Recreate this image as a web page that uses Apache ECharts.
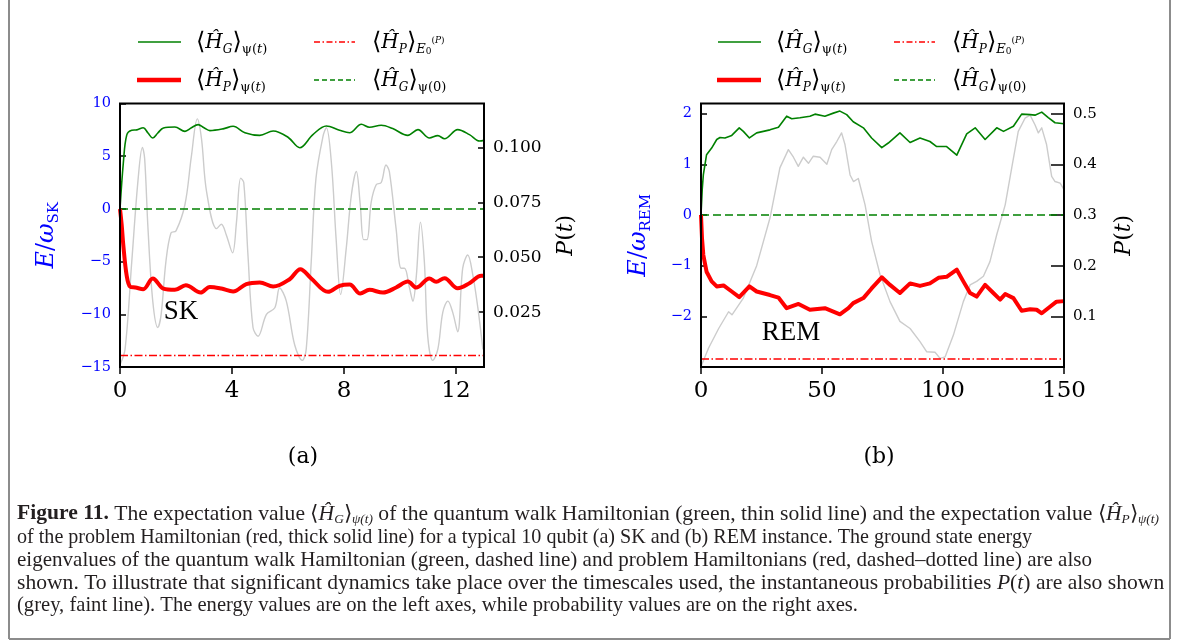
<!DOCTYPE html>
<html><head><meta charset="utf-8">
<script src="https://cdn.jsdelivr.net/npm/echarts@6/dist/echarts.min.js"></script>
<style>html,body{margin:0;padding:0;background:#fff}#c{width:1182px;height:644px}</style>
</head><body><div id="c"></div><script>
// ---------------- data: (a) SK ----------------
const skGreenT = [0, 0.12, 0.24, 0.42, 0.6, 0.83, 1.0, 1.17, 1.35, 1.55, 1.96, 2.32, 2.55, 2.79, 3.0, 3.21, 3.68, 4.04, 4.46, 4.99, 5.47, 6.0, 6.42, 6.89, 7.37, 7.84, 8.2, 8.62, 8.91, 9.33, 9.74, 10.28, 10.64, 11.05, 11.35, 11.59, 12.06, 12.48, 12.84, 13.0];
const skGreenE = [0, 4.4, 7.0, 7.46, 7.5, 7.7, 7.2, 6.72, 7.2, 7.68, 7.77, 7.36, 7.7, 8.0, 7.7, 7.43, 7.59, 7.84, 7.23, 6.98, 7.39, 6.8, 5.8, 7.05, 7.87, 7.46, 7.23, 8.03, 7.74, 7.93, 7.62, 6.98, 7.52, 6.73, 6.95, 6.66, 7.52, 7.05, 6.44, 6.5];
const skRedT = [0, 0.06, 0.12, 0.24, 0.36, 0.55, 0.83, 1.17, 1.55, 1.96, 2.35, 2.88, 3.21, 3.62, 4.04, 4.51, 4.99, 5.47, 6.06, 6.44, 6.83, 7.43, 7.84, 8.2, 8.58, 8.91, 9.39, 9.86, 10.28, 10.58, 11.05, 11.29, 11.59, 12.06, 12.48, 12.9, 13.0];
const skRedE = [0, -1.5, -3.5, -6.35, -7.37, -7.46, -7.62, -6.6, -7.56, -7.68, -7.24, -7.94, -7.4, -7.56, -7.84, -7.14, -6.98, -7.37, -6.67, -5.72, -6.6, -7.87, -7.3, -7.17, -8.03, -7.68, -7.94, -7.46, -6.89, -7.46, -6.6, -6.92, -6.57, -7.53, -7.05, -6.35, -6.35];
const skProbT = [0, 0.18, 0.42, 0.65, 0.8, 0.88, 1.0, 1.17, 1.35, 1.47, 1.64, 1.82, 2.0, 2.32, 2.55, 2.76, 2.91, 3.09, 3.45, 3.62, 3.8, 4.02, 4.16, 4.31, 4.42, 4.57, 4.75, 4.93, 5.23, 5.53, 5.7, 5.94, 6.24, 6.51, 6.65, 6.83, 7.0, 7.25, 7.37, 7.55, 7.72, 7.88, 8.08, 8.26, 8.44, 8.58, 8.7, 8.82, 8.97, 9.15, 9.33, 9.5, 9.62, 9.86, 10.04, 10.16, 10.34, 10.46, 10.58, 10.73, 10.87, 10.99, 11.17, 11.35, 11.53, 11.71, 11.88, 12.06, 12.24, 12.42, 12.6, 12.78, 12.96];
const skProb = [0.001, 0.008, 0.048, 0.086, 0.100, 0.095, 0.063, 0.030, 0.018, 0.024, 0.048, 0.061, 0.062, 0.074, 0.096, 0.113, 0.104, 0.080, 0.063, 0.065, 0.060, 0.052, 0.066, 0.086, 0.084, 0.051, 0.018, 0.014, 0.024, 0.027, 0.036, 0.030, 0.010, 0.003, 0.008, 0.048, 0.086, 0.105, 0.109, 0.093, 0.058, 0.033, 0.054, 0.078, 0.089, 0.074, 0.058, 0.058, 0.075, 0.083, 0.084, 0.092, 0.089, 0.063, 0.045, 0.045, 0.036, 0.030, 0.041, 0.066, 0.048, 0.014, 0.003, 0.008, 0.025, 0.030, 0.025, 0.016, 0.045, 0.051, 0.042, 0.027, 0.008];
const skGroundG = 0;
const skGroundP = -13.9;
const skTRange = [0, 13];
const skERange = [-15, 10];
const skPRange = [0, 0.12];
const skXTicks = [0, 4, 8, 12];
const skETicks = [-15, -10, -5, 0, 5, 10];
const skPTicks = [0.025, 0.05, 0.075, 0.1];

// ---------------- data: (b) REM ----------------
const remGreenT = [0, 0.5, 0.96, 2.3, 4.4, 6.5, 7.85, 9.9, 12.7, 15.8, 17.5, 20, 23, 28.5, 32, 35.4, 37.5, 40.9, 45, 47.1, 51.2, 54.7, 57.4, 60.2, 62.9, 67.1, 70.5, 74.7, 77.4, 82.2, 86.4, 90.5, 94.6, 97.4, 101.5, 105.7, 109.8, 113.3, 117.4, 122.2, 125, 129.1, 132.5, 136, 138, 140.8, 143.5, 146.3, 150];
const remGreenE = [0, 0.5, 0.79, 1.19, 1.32, 1.49, 1.53, 1.52, 1.57, 1.72, 1.65, 1.52, 1.62, 1.68, 1.73, 1.95, 1.9, 1.92, 1.95, 1.99, 1.95, 2.01, 2.05, 1.98, 1.84, 1.72, 1.52, 1.33, 1.42, 1.62, 1.43, 1.52, 1.45, 1.35, 1.35, 1.18, 1.6, 1.72, 1.49, 1.72, 1.65, 1.75, 1.99, 1.98, 1.97, 2.03, 1.92, 1.82, 1.8];
const remRedT = [0, 0.4, 0.96, 2.3, 4.4, 6.5, 9.3, 12.7, 15.8, 20, 23, 28.5, 32, 35.4, 40.3, 45, 51.2, 57.4, 60.9, 62.9, 67.1, 70.5, 74.7, 78.1, 82.2, 86.4, 90.5, 94.6, 98.1, 101.5, 105.7, 108.4, 111.2, 113.9, 117.4, 120.8, 123.6, 125.7, 129.1, 132.5, 136, 138.7, 140.8, 144.2, 146.9, 150];
const remRedE = [0, -0.45, -0.79, -1.12, -1.31, -1.41, -1.39, -1.51, -1.62, -1.41, -1.51, -1.58, -1.63, -1.84, -1.755, -1.87, -1.84, -1.96, -1.84, -1.74, -1.64, -1.45, -1.23, -1.38, -1.54, -1.35, -1.4, -1.35, -1.24, -1.22, -1.08, -1.31, -1.54, -1.61, -1.38, -1.54, -1.67, -1.56, -1.64, -1.89, -1.86, -1.87, -1.94, -1.81, -1.71, -1.7];
const remProbT = [0, 3.1, 7.3, 11.4, 12.8, 17.5, 23, 28.5, 32.6, 36.1, 38.2, 40.2, 42.3, 44.4, 46.4, 49.2, 52, 54, 56.1, 58.1, 59.5, 61.6, 63, 65, 67.8, 70.5, 74, 78.1, 82.2, 86.4, 90.5, 93.3, 96.7, 98.8, 100.9, 104.3, 108.4, 111.2, 113.9, 116.7, 119.4, 122.2, 125.7, 128.4, 131.1, 133.9, 136, 138, 139.4, 140.8, 142.8, 144.9, 146.3, 148.4, 150];
const remProb = [0.001, 0.037, 0.076, 0.109, 0.103, 0.136, 0.2, 0.294, 0.393, 0.429, 0.414, 0.396, 0.414, 0.402, 0.416, 0.414, 0.4, 0.429, 0.445, 0.462, 0.439, 0.379, 0.366, 0.372, 0.32, 0.248, 0.182, 0.129, 0.09, 0.076, 0.05, 0.03, 0.029, 0.017, 0.02, 0.063, 0.129, 0.162, 0.169, 0.179, 0.208, 0.261, 0.32, 0.393, 0.465, 0.491, 0.497, 0.478, 0.462, 0.472, 0.439, 0.376, 0.366, 0.363, 0.35];
const remGroundG = 0;
const remGroundP = -2.84;
const remTRange = [0, 150];
const remERange = [-3, 2.2];
const remPRange = [0, 0.52];
const remXTicks = [0, 50, 100, 150];
const remETicks = [-2, -1, 0, 1, 2];
const remPTicks = [0.1, 0.2, 0.3, 0.4, 0.5];

// ---------------- build ----------------
const zip = (a, b) => a.map((v, i) => [v, b[i]]);
const minus = v => (v < 0 ? '\u2212' + Math.abs(v) : String(v));
const GREEN = '#008000', RED = '#ff0000', GREY = '#cccccc', BLUE = '#0000ff';
const SERIF = 'DejaVu Serif';
const DASH = [8, 4], DASHDOT = [8, 2.5, 1.5, 2.5];

function line(xi, yi, data, color, width, type, smooth, z) {
  return { type: 'line', xAxisIndex: xi, yAxisIndex: yi, data: data, showSymbol: false, symbol: 'none',
    smooth: smooth, z: z, silent: true, animation: false,
    lineStyle: { color: color, width: width, type: type, join: 'round', cap: 'butt' } };
}

function xAxis(grid, range, ticks) {
  return { gridIndex: grid, type: 'value', position: 'bottom', min: range[0], max: range[1],
    axisLine: { show: false, onZero: false },
    splitLine: { show: false },
    axisTick: { show: true, inside: false, length: 7, customValues: ticks, lineStyle: { color: '#000', width: 1.5 } },
    axisLabel: { customValues: ticks, formatter: v => String(v), fontFamily: SERIF, fontSize: 23, color: '#000', margin: 13 } };
}
function eAxis(grid, range, ticks, sub, gap, fs) {
  return { gridIndex: grid, type: 'value', position: 'left', min: range[0], max: range[1],
    axisLine: { show: false, onZero: false }, splitLine: { show: false },
    axisTick: { show: true, inside: true, length: 6, customValues: ticks, lineStyle: { color: '#000', width: 1.5 } },
    axisLabel: { customValues: ticks, formatter: minus, fontFamily: SERIF, fontSize: fs, color: BLUE, margin: 9 },
    name: '{i|E}{n|/}{i|\u03c9}{s|' + sub + '}', nameLocation: 'middle', nameRotate: 90, nameGap: gap,
    nameTextStyle: { color: BLUE, fontFamily: SERIF, fontSize: 24,
      rich: { i: { fontStyle: 'italic', fontSize: 24, color: BLUE, fontFamily: SERIF, lineHeight: 30 },
              n: { fontSize: 24, color: BLUE, fontFamily: SERIF, lineHeight: 30 },
              s: { fontSize: 15, color: BLUE, fontFamily: SERIF, lineHeight: 15, verticalAlign: 'bottom' } } } };
}
function pAxis(grid, range, ticks, digits, gap, fs, tl) {
  return { gridIndex: grid, type: 'value', position: 'right', min: range[0], max: range[1],
    axisLine: { show: false, onZero: false }, splitLine: { show: false },
    axisTick: { show: true, inside: true, length: tl, customValues: ticks, lineStyle: { color: '#000', width: 1.5 } },
    axisLabel: { customValues: ticks, formatter: v => v.toFixed(digits), fontFamily: SERIF, fontSize: fs, color: '#000', margin: 9 },
    name: '{i|P}{n|(}{i|t}{n|)}', nameLocation: 'middle', nameRotate: 90, nameGap: gap,
    nameTextStyle: { color: '#000', fontFamily: SERIF, fontSize: 22,
      rich: { i: { fontStyle: 'italic', fontSize: 22, color: '#000', fontFamily: SERIF },
              n: { fontSize: 22, color: '#000', fontFamily: SERIF } } } };
}

// legend & caption graphics
const mathRich = {
  a: { fontSize: 24, fontFamily: SERIF, lineHeight: 26, fill: '#000' },
  h: { fontSize: 20, fontStyle: 'italic', fontFamily: SERIF, lineHeight: 26, fill: '#000' },
  s: { fontSize: 12, fontStyle: 'italic', fontFamily: SERIF, lineHeight: 12, verticalAlign: 'bottom', fill: '#000' },
  r: { fontSize: 13, fontFamily: SERIF, lineHeight: 13, verticalAlign: 'bottom', fill: '#000' },
  ri: { fontSize: 13, fontStyle: 'italic', fontFamily: SERIF, lineHeight: 13, verticalAlign: 'bottom', fill: '#000' },
  z: { fontSize: 9, fontFamily: SERIF, lineHeight: 8, verticalAlign: 'bottom', fill: '#000' },
  u: { fontSize: 9, fontFamily: SERIF, lineHeight: 9, verticalAlign: 'top', padding: [6, 0, 0, 0], fill: '#000' },
  ui: { fontSize: 9, fontStyle: 'italic', fontFamily: SERIF, lineHeight: 9, verticalAlign: 'top', padding: [6, 0, 0, 0], fill: '#000' }
};
const legTexts = [
  '{a|\u27e8}{h|\u0124}{s|G}{a|\u27e9}{r|\u03c8(}{ri|t}{r|)}',
  '{a|\u27e8}{h|\u0124}{s|P}{a|\u27e9}{r|\u03c8(}{ri|t}{r|)}',
  '{a|\u27e8}{h|\u0124}{s|P}{a|\u27e9}{ri|E}{z|0}{u|(}{ui|P}{u|)}',
  '{a|\u27e8}{h|\u0124}{s|G}{a|\u27e9}{r|\u03c8(0)}'
];
function legend(dx) {
  const els = [];
  const rows = [
    { x1: 138, x2: 181, y: 42, c: GREEN, w: 1.6, d: null, tx: 196, t: legTexts[0] },
    { x1: 137, x2: 181, y: 80, c: RED, w: 4.5, d: null, tx: 196, t: legTexts[1] },
    { x1: 314, x2: 355, y: 42, c: RED, w: 1.5, d: [6, 2.5, 1.5, 2.5], tx: 372, t: legTexts[2] },
    { x1: 314, x2: 355, y: 80, c: GREEN, w: 1.5, d: [5, 3], tx: 372, t: legTexts[3] }
  ];
  rows.forEach(r => {
    els.push({ type: 'line', silent: true, shape: { x1: r.x1 + dx, y1: r.y, x2: r.x2 + dx, y2: r.y },
      style: { stroke: r.c, lineWidth: r.w, lineDash: r.d } });
    els.push({ type: 'text', silent: true, x: r.tx + dx, y: r.y + 1,
      style: { text: r.t, rich: mathRich, fontFamily: SERIF, fontSize: 20, lineHeight: 26, fill: '#000', align: 'left', verticalAlign: 'middle' } });
  });
  return els;
}

const CAPF = 'Liberation Serif';
const capLines = [
  '{b|Figure 11.} The expectation value \u27e8{i|\u0124}{s|G}\u27e9{s|\u03c8(t)} of the quantum walk Hamiltonian (green, thin solid line) and the expectation value \u27e8{i|\u0124}{s|P}\u27e9{s|\u03c8(t)}',
  'of the problem Hamiltonian (red, thick solid line) for a typical 10 qubit (a) SK and (b) REM instance. The ground state energy',
  'eigenvalues of the quantum walk Hamiltonian (green, dashed line) and problem Hamiltonians (red, dashed\u2013dotted line) are also',
  'shown. To illustrate that significant dynamics take place over the timescales used, the instantaneous probabilities {i|P}({i|t}) are also shown',
  '(grey, faint line). The energy values are on the left axes, while probability values are on the right axes.'
];
// plain versions, used only to measure each line's width
const capPlain = [
  'Figure 11. The expectation value \u27e8\u0124G\u27e9\u03c8(t) of the quantum walk Hamiltonian (green, thin solid line) and the expectation value \u27e8\u0124P\u27e9\u03c8(t)',
  capLines[1], capLines[2],
  'shown. To illustrate that significant dynamics take place over the timescales used, the instantaneous probabilities P(t) are also shown',
  capLines[4]
];
const capRight = [1167, 1032, 1092, 1163, 858];
const capRich = {
  b: { fontWeight: 'bold', fontSize: 21, fontFamily: CAPF, lineHeight: 24, fill: '#231f20' },
  i: { fontStyle: 'italic', fontSize: 21, fontFamily: CAPF, lineHeight: 24, fill: '#231f20' },
  s: { fontStyle: 'italic', fontSize: 13, fontFamily: CAPF, lineHeight: 12, verticalAlign: 'bottom', fill: '#231f20' }
};
const mctx = document.createElement('canvas').getContext('2d');
mctx.font = '21px "Liberation Serif"';
const baseScale = (capRight[3] - 17) / mctx.measureText(capPlain[3]).width;
const capScales = capPlain.map((t, i) => i === 0 ? baseScale : (capRight[i] - 17) / mctx.measureText(t).width);
const capY = [514, 537, 560, 583, 605];
const caption = capLines.map((t, i) => ({ type: 'text', silent: true, x: 17, y: capY[i], scaleX: capScales[i],
  style: { text: t, rich: capRich, fontFamily: CAPF, fontSize: 21, lineHeight: 24, fill: '#231f20', align: 'left', verticalAlign: 'middle' } }));

const frame = [
  { type: 'line', silent: true, shape: { x1: 9, y1: 0, x2: 9, y2: 639 }, style: { stroke: '#8c8c8c', lineWidth: 2 } },
  { type: 'line', silent: true, shape: { x1: 1170, y1: 0, x2: 1170, y2: 639 }, style: { stroke: '#8c8c8c', lineWidth: 2 } },
  { type: 'line', silent: true, shape: { x1: 9, y1: 639, x2: 1170, y2: 639 }, style: { stroke: '#8c8c8c', lineWidth: 2 } }
];
const labels = [
  { type: 'text', silent: true, x: 303, y: 457, style: { text: '(a)', fontFamily: SERIF, fontSize: 22, fill: '#000', align: 'center', verticalAlign: 'middle' } },
  { type: 'text', silent: true, x: 879, y: 457, style: { text: '(b)', fontFamily: SERIF, fontSize: 22, fill: '#000', align: 'center', verticalAlign: 'middle' } },
  { type: 'text', silent: true, x: 181, y: 312, style: { text: 'SK', fontFamily: 'Liberation Serif', fontSize: 27, fill: '#000', align: 'center', verticalAlign: 'middle' } },
  { type: 'text', silent: true, x: 791, y: 333, style: { text: 'REM', fontFamily: 'Liberation Serif', fontSize: 27, fill: '#000', align: 'center', verticalAlign: 'middle' } }
];

const option = {
  animation: false,
  backgroundColor: '#fff',
  grid: [
    { left: 120, top: 103.5, width: 364, height: 263.5, show: true, borderColor: '#000', borderWidth: 2, backgroundColor: 'transparent', z: 10 },
    { left: 701, top: 103.5, width: 363, height: 263.5, show: true, borderColor: '#000', borderWidth: 2, backgroundColor: 'transparent', z: 10 }
  ],
  xAxis: [ xAxis(0, skTRange, skXTicks), xAxis(1, remTRange, remXTicks) ],
  yAxis: [
    eAxis(0, skERange, skETicks, 'SK', 58, 14.5),
    pAxis(0, skPRange, skPTicks, 3, 71, 17, 6),
    eAxis(1, remERange, remETicks, 'REM', 47, 14.5),
    pAxis(1, remPRange, remPTicks, 1, 49, 15, 13)
  ],
  series: [
    line(0, 1, zip(skProbT, skProb), GREY, 1.4, 'solid', 0.35, 1),
    line(0, 0, [[skTRange[0], skGroundG], [skTRange[1], skGroundG]], GREEN, 1.5, DASH, false, 2),
    line(0, 0, [[skTRange[0], skGroundP], [skTRange[1], skGroundP]], RED, 1.5, DASHDOT, false, 2),
    line(0, 0, zip(skGreenT, skGreenE), GREEN, 1.6, 'solid', 0.35, 3),
    line(0, 0, zip(skRedT, skRedE), RED, 4, 'solid', 0.35, 4),
    line(1, 3, zip(remProbT, remProb), GREY, 1.4, 'solid', false, 1),
    line(1, 2, [[remTRange[0], remGroundG], [remTRange[1], remGroundG]], GREEN, 1.5, DASH, false, 2),
    line(1, 2, [[remTRange[0], remGroundP], [remTRange[1], remGroundP]], RED, 1.5, DASHDOT, false, 2),
    line(1, 2, zip(remGreenT, remGreenE), GREEN, 1.6, 'solid', false, 3),
    line(1, 2, zip(remRedT, remRedE), RED, 4, 'solid', false, 4)
  ],
  graphic: { elements: [].concat(legend(0), legend(580), caption, frame, labels) }
};
const chart = echarts.init(document.getElementById('c'), null, { renderer: 'canvas' });
chart.setOption(option);
</script></body></html>
